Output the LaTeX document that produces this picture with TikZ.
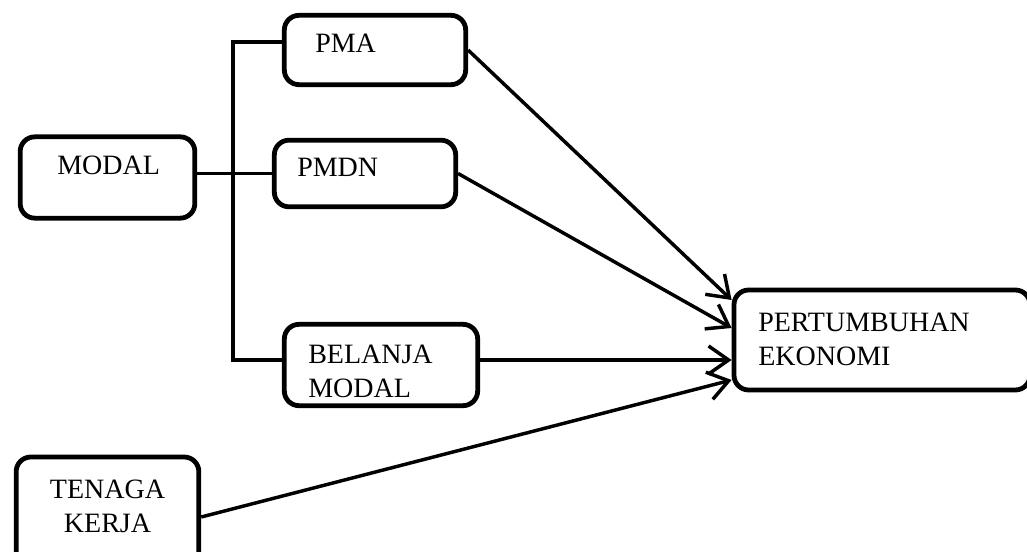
\documentclass[tikz,border=0pt]{standalone}
\usepackage{fontspec}
\setmainfont{Liberation Serif}
\usetikzlibrary{positioning,arrows.meta,calc}

\begin{document}
\begin{tikzpicture}[
  x=0.75pt, y=-0.75pt,
  unit/.style={draw, line width=3.6pt, rounded corners=11pt, inner sep=0pt},
  txt/.style={inner sep=0pt, font=\fontsize{21}{25.5}\selectfont, align=left},
  link/.style={line width=2.6pt},
  flow/.style={line width=2.6pt, -{Straight Barb[length=15pt, width=21pt]}}
]
\clip (0,0) rectangle (1027,552);

% boxes
\node[unit, minimum width=136pt, minimum height=52pt] (pma) at (375,50) {};
\node[unit, minimum width=131pt, minimum height=61pt] (modal) at (107.5,177.5) {};
\node[unit, minimum width=136pt, minimum height=50pt] (pmdn) at (365,173.5) {};
\node[unit, minimum width=145pt, minimum height=61pt] (bel) at (381,365) {};
\node[unit, minimum width=222pt, minimum height=75pt] (pe) at (882,340) {};
\node[unit, minimum width=137pt, minimum height=90pt] (tk) at (107.5,517) {};

% texts
\node[txt, anchor=base west] (modal-t) at (57,175) {MODAL};
\node[txt, anchor=base west] (pma-t) at (315,53) {PMA};
\node[txt, anchor=base west] (pmdn-t) at (297,177) {PMDN};
\node[txt, anchor=north west] (bel-t) at (308,345) {BELANJA\\MODAL};
\node[txt, anchor=north, align=center] (tk-t) at (107.5,480) {TENAGA\\KERJA};
\node[txt, anchor=north west] (pe-t) at (758,313) {PERTUMBUHAN\\EKONOMI};

% modal branches
\coordinate (bustop) at (233,42);
\coordinate (busbot) at (233,360);
\draw[link] (modal.east |- pmdn.west) -- (pmdn.west);
\draw[link] (pma.west |- bustop) -- (bustop) -- (busbot) -- (bel.west |- busbot);

% into growth
\draw[flow] (pma.east) -- ($(pe.west)+(0,-40)$);
\draw[flow] (pmdn.east) -- ($(pe.west)+(0,-12)$);
\draw[flow] (bel.east |- busbot) -- (pe.west |- busbot);
\draw[flow] (tk.east) -- ($(pe.west)+(0,40)$);
\end{tikzpicture}
\end{document}
